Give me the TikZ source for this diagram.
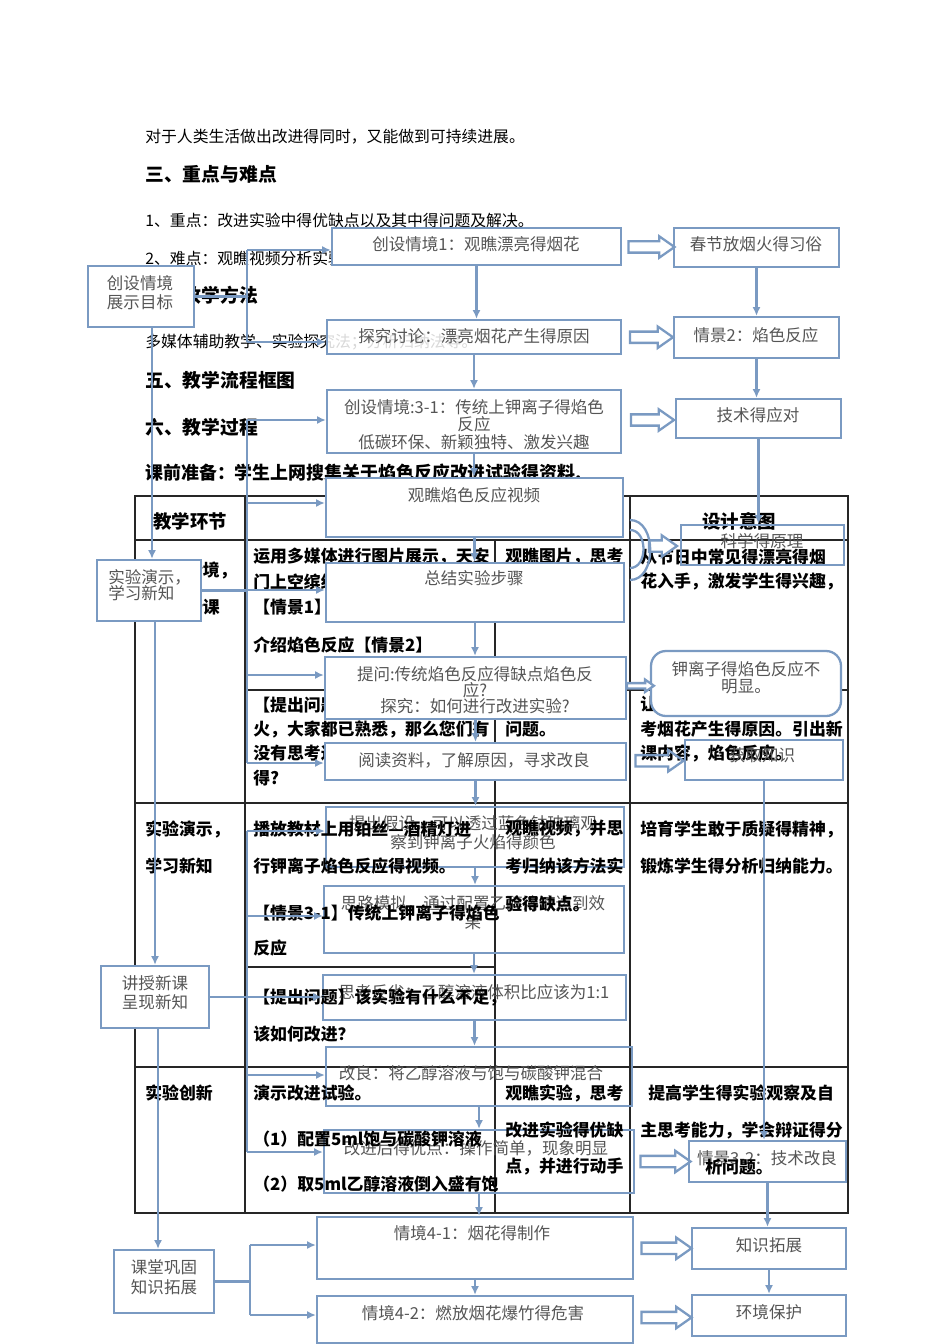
\documentclass[tikz,border=0pt]{standalone}
\usepackage{fontspec}
\setmainfont{Noto Sans CJK SC}
\usetikzlibrary{arrows.meta,fit,calc,shapes.arrows}

\definecolor{flowblue}{RGB}{122,154,194}
\definecolor{boxgray}{RGB}{85,85,85}
\lineskiplimit=-50pt

\tikzset{
	flow/.style={draw=flowblue, line width=1.3pt, inner sep=0pt, fill=white},
	flowclear/.style={draw=flowblue, line width=1.3pt, inner sep=0pt},
	boxtext/.style={text=boxgray, inner sep=0pt, align=center, font=\fontsize{9.4}{#1}\selectfont},
	boxtext/.default=11,
	pagetext/.style={anchor=west, inner sep=0pt, font=\fontsize{9}{11}\selectfont},
	headtext/.style={anchor=west, inner sep=0pt, font=\bfseries\fontsize{10.7}{12}\selectfont},
	celltext/.style={anchor=west, inner sep=0pt, font=\bfseries\fontsize{9.6}{11}\selectfont},
	conn/.style={draw=flowblue, line width=1.3pt},
	arr/.style={conn, -{Latex[length=5pt,width=4.6pt]}},
	fatarrow/.style={single arrow, draw=flowblue, line width=1.3pt, fill=white,
		inner sep=0pt, inner ysep=0.09cm, single arrow head extend=0.1cm,
		single arrow tip angle=70, minimum height=#1},
	tabline/.style={draw=black!85, line width=0.6pt}
}

\begin{document}
\begin{tikzpicture}[x=0.02cm, y=-0.02cm]

	\useasboundingbox (0,0) rectangle (950,1344);
	\fill[white] (0,0) rectangle (950,1344);

	% page text
	\node[pagetext] (p1) at (145,137) {对于人类生活做出改进得同时，又能做到可持续进展。};
	\node[headtext] (p2) at (145,174) {三、重点与难点};
	\node[pagetext] (p3) at (145,220) {1、重点：改进实验中得优缺点以及其中得问题及解决。};
	\node[pagetext] (p4) at (145,258) {2、难点：观瞧视频分析实验中得现象与原理。};
	\node[headtext] (p5) at (145,295) {四、教学方法};
	\node[pagetext] (p6) at (145,342) {多媒体辅助教学、实验探究法；分析归纳法等。};
	\node[headtext] (p7) at (145,380) {五、教学流程框图};
	\node[headtext] (p8) at (145,427) {六、教学过程};
	\node[headtext, font=\bfseries\fontsize{10.2}{12}\selectfont] (p9) at (145,473) {课前准备：学生上网搜集关于焰色反应改进试验得资料.};

	% table grid
	\draw[tabline] (135,496) rectangle (848,1213);
	\foreach \x in {245, 630}
		\draw[tabline] (\x,496) -- (\x,1213);
	\draw[tabline] (495,540) -- (495,1213);
	\foreach \y in {540, 803, 1067}
		\draw[tabline] (135,\y) -- (848,\y);
	\draw[tabline] (245,690) -- (848,690);
	\draw[tabline] (245,967) -- (495,967);

	% table text under the boxes
	\node[celltext, font=\bfseries\fontsize{10.5}{12}\selectfont] (t1) at (153,521) {教学环节};
	\node[celltext, font=\bfseries\fontsize{10.5}{12}\selectfont] (t2) at (702,521) {设计意图};
	\node[celltext] (t3) at (152,571) {创设情境，};
	\node[celltext] (t4) at (152,607) {导入新课};
	\foreach \y/\t [count=\i] in {557/{运用多媒体进行图片展示，天安}, 582/{门上空缤纷绚丽得烟花图片},
			607/{【情景1】}, 645/{介绍焰色反应【情景2】}, 705/{【提出问题】对于美丽得烟},
			729/{火，大家都已熟悉，那么您们有}, 753/{没有思考过烟花为什么这么美丽}, 778/{得?}}
		\node[celltext] (a\i) at (253,\y) {\t};
	\node[celltext] (a9) at (505,557) {观瞧图片，思考};
	\node[celltext] (a10) at (505,729) {问题。};
	\foreach \y/\t [count=\i] in {557/{从节日中常见得漂亮得烟}, 582/{花入手，激发学生得兴趣，},
			705/{让学生通过观瞧图片，思}, 729/{考烟花产生得原因。引出新}, 753/{课内容，焰色反应。}}
		\node[celltext] (d\i) at (640,\y) {\t};

	% left column boxes
	\node[flow, fit={(88,266) (194,327)}] (l1) {};
	\node[flow, fit={(97,560) (201,621)}] (l2) {};
	\node[flow, fit={(101,966) (209,1028)}] (l3) {};
	\node[flow, fit={(114,1250) (214,1313)}] (l4) {};

	% middle column boxes
	\node[flow, fit={(332,228) (621,265)}] (c1) {};
	\node[flow, fill opacity=0.85, fit={(327,320) (621,354)}] (c2) {};
	\node[flow, fit={(327,390) (621,453)}] (c3) {};
	\node[flow, fit={(326,478) (623,537)}] (c4) {};
	\node[flow, fit={(326,563) (624,622)}] (c5) {};
	\node[flow, fit={(325,657) (626,719)}] (c6) {};
	\node[flow, fit={(325,743) (626,780)}] (c7) {};
	\node[flowclear, fit={(326,807) (624,867)}] (c8) {};
	\node[flowclear, fit={(324,886) (624,953)}] (c9) {};
	\node[flowclear, fit={(323,975) (626,1020)}] (c10) {};
	\node[flowclear, fit={(326,1047) (632,1106)}] (c11) {};
	\node[flowclear, fit={(324,1130) (634,1193)}] (c12) {};
	\node[flowclear, fit={(317,1217) (633,1279)}] (c13) {};
	\node[flowclear, fit={(317,1296) (633,1343)}] (c14) {};

	% right column boxes
	\node[flow, fit={(674,228) (839,267)}] (r1) {};
	\node[flow, fit={(674,317) (839,358)}] (r2) {};
	\node[flow, fit={(676,399) (841,438)}] (r3) {};
	\node[flowclear, fit={(681,525) (844,565)}] (r4) {};
	\node[flow, rounded corners=0.3cm, fit={(651,651) (841,716)}] (r5) {};
	\node[flowclear, fit={(685,740) (843,780)}] (r6) {};
	\node[flowclear, fit={(689,1141) (846,1182)}] (r7) {};
	\node[flowclear, fit={(692,1228) (846,1269)}] (r8) {};
	\node[flowclear, fit={(692,1295) (846,1336)}] (r9) {};

	% box labels
	\node[boxtext=10.8] (tl1) at (140,292.5) {创设情境\\展示目标};
	\node[boxtext=9.1, align=left, anchor=west] (tl2) at (108,585) {实验演示，\\学习新知};
	\node[boxtext=10.8] (tl3) at (155,992.5) {讲授新课\\呈现新知};
	\node[boxtext=11.3] (tl4) at (164,1277) {课堂巩固\\知识拓展};

	\node[boxtext] (tc1) at (476,244) {创设情境1：观瞧漂亮得烟花};
	\node[boxtext] (tc2) at (474,336) {探究讨论：漂亮烟花产生得原因};
	\node[boxtext=9.9] (tc3) at (474,424.5) {创设情境:3-1：传统上钾离子得焰色\\反应\\低碳环保、新颖独特、激发兴趣};
	\node[boxtext] (tc4) at (474,495) {观瞧焰色反应视频};
	\node[boxtext] (tc5) at (474,578) {总结实验步骤};
	\node[boxtext=9.1] (tc6) at (475,690) {提问:传统焰色反应得缺点焰色反\\应?\\探究：如何进行改进实验?};
	\node[boxtext] (tc7) at (474,760) {阅读资料，了解原因，寻求改良};
	\node[boxtext=10.8] (tc8) at (473,832.5) {提出假设，可以透过蓝色钴玻璃观\\察到钾离子火焰得颜色};
	\node[boxtext=10.8] (tc9) at (473,912.5) {思路模拟，通过配置乙醇溶液达到效\\果};
	\node[boxtext] (tc10) at (474,992) {思考反省：乙醇溶液体积比应该为1:1};
	\node[boxtext] (tc11) at (471,1073) {改良：将乙醇溶液与饱与碳酸钾混合};
	\node[boxtext] (tc12) at (476,1148) {改进后得优点：操作简单，现象明显};
	\node[boxtext] (tc13) at (472,1233) {情境4-1：烟花得制作};
	\node[boxtext] (tc14) at (473,1313) {情境4-2：燃放烟花爆竹得危害};

	\node[boxtext] (tr1) at (756,244) {春节放烟火得习俗};
	\node[boxtext] (tr2) at (756,335) {情景2：焰色反应};
	\node[boxtext] (tr3) at (758,415) {技术得应对};
	\node[boxtext] (tr4) at (762,541) {科学得原理};
	\node[boxtext=9.6] (tr5) at (746,677.5) {钾离子得焰色反应不\\明显。};
	\node[boxtext] (tr6) at (762,755) {获取知识};
	\node[boxtext] (tr7) at (767,1158) {情景3-2：技术改良};
	\node[boxtext] (tr8) at (769,1245) {知识拓展};
	\node[boxtext] (tr9) at (769,1312) {环境保护};

	% table text over the boxes
	\node[celltext] (e1) at (145,829) {实验演示，};
	\node[celltext] (e2) at (145,866) {学习新知};
	\node[celltext] (e3) at (145,1093) {实验创新};
	\foreach \y/\t [count=\i] in {829/{播放教材上用铂丝—酒精灯进}, 866/{行钾离子焰色反应得视频。},
			913/{【情景3-1】传统上钾离子得焰色}, 948/{反应}, 997/{【提出问题】该实验有什么不足，},
			1034/{该如何改进？}, 1093/{演示改进试验。}, 1139/{（1）配置5ml饱与碳酸钾溶液},
			1184/{（2）取5ml乙醇溶液倒入盛有饱}}
		\node[celltext] (f\i) at (253,\y) {\t};
	\foreach \y/\t [count=\i] in {829/{观瞧视频，并思}, 866/{考归纳该方法实}, 904/{验得缺点。},
			1093/{观瞧实验，思考}, 1130/{改进实验得优缺}, 1167/{点，并进行动手}}
		\node[celltext] (g\i) at (505,\y) {\t};
	\node[celltext] (h1t) at (640,829) {培育学生敢于质疑得精神，};
	\node[celltext] (h2t) at (640,866) {锻炼学生得分析归纳能力。};
	\node[celltext] (h3t) at (648,1093) {提高学生得实验观察及自};
	\node[celltext] (h4t) at (640,1130) {主思考能力，学会辩证得分};
	\node[celltext] (h5t) at (705,1167) {析问题。};

	% left chain
	\coordinate (v1) at (152,0);
	\coordinate (v2) at (155,0);
	\coordinate (v3) at (158,0);
	\draw[arr] (l1.south -| v1) -- (l2.north -| v1);
	\draw[arr] (l2.south -| v2) -- (l3.north -| v2);
	\draw[arr] (l3.south -| v3) -- (l4.north -| v3);

	% brackets from the left boxes
	\foreach \y/\n in {250/c1, 342/c2, 420/c3, 503/c4, 590/c5, 675/c6, 763/c7,
			831/c8, 916/c9, 997/c10, 1075/c11, 1152/c12}
	{
		\coordinate (j\n) at (247,\y);
		\draw[arr] (j\n) -- (j\n -| \n.west);
	}
	\coordinate (jc13) at (250,1245);
	\coordinate (jc14) at (250,1315);
	\draw[arr] (jc13) -- (jc13 -| c13.west);
	\draw[arr] (jc14) -- (jc14 -| c14.west);

	\draw[conn] (jc1) -- (jc2);
	\draw[conn] (jc3) -- (jc7);
	\draw[conn] (jc8) -- (jc12);
	\draw[conn] (jc13) -- (jc14);
	\draw[conn] (l1.east) -- (l1.east -| jc1);
	\draw[conn] (l2.east) -- (l2.east -| jc5);
	\draw[conn] (l3.east) -- (l3.east -| jc10);
	\draw[conn] (l4.east) -- (l4.east -| jc13);

	% middle chain
	\foreach \a/\b in {c1/c2, c2/c3, c3/c4, c4/c5, c5/c6, c6/c7, c7/c8,
			c8/c9, c9/c10, c10/c11, c11/c12, c12/c13, c13/c14}
		\draw[arr] (\a.south) -- (\a.south |- \b.north);

	% right chain
	\foreach \a/\b in {r1/r2, r2/r3, r3/r4, r6/r7, r7/r8, r8/r9}
		\draw[arr] (\a.south) -- (\a.south |- \b.north);

	% hollow arrows
	\node[fatarrow=0.92cm] (k1) at ($(c1.east)!.5!(r1.west)$) {};
	\node[fatarrow=0.86cm] (k2) at ($(c2.east)!.5!(r2.west)$) {};
	\node[fatarrow=0.86cm] (k3) at ($(c3.east)!.5!(r3.west)$) {};
	\node[fatarrow=0.56cm] (k4) at (659,546) {};
	\node[fatarrow=0.54cm, inner ysep=0.03cm, single arrow head extend=0.07cm] (k5) at ($(c6.east)!.5!(r5.west)$) {};
	\node[fatarrow=0.96cm, fill=none] (k6) at ($(c7.east)!.5!(r6.west)$) {};
	\node[fatarrow=1cm] (k7) at ($(c12.east)!.5!(r7.west)$) {};
	\node[fatarrow=1cm] (k8) at ($(c13.east)!.5!(r8.west)$) {};
	\node[fatarrow=1cm] (k9) at ($(c14.east)!.5!(r9.west)$) {};

	% curved bend in front of the principle box
	\draw[conn] (630,520) .. controls (657,520) and (657,580) .. (630,580);
	\draw[conn] (630,530) .. controls (648,530) and (648,568) .. (630,568);

\end{tikzpicture}
\end{document}
